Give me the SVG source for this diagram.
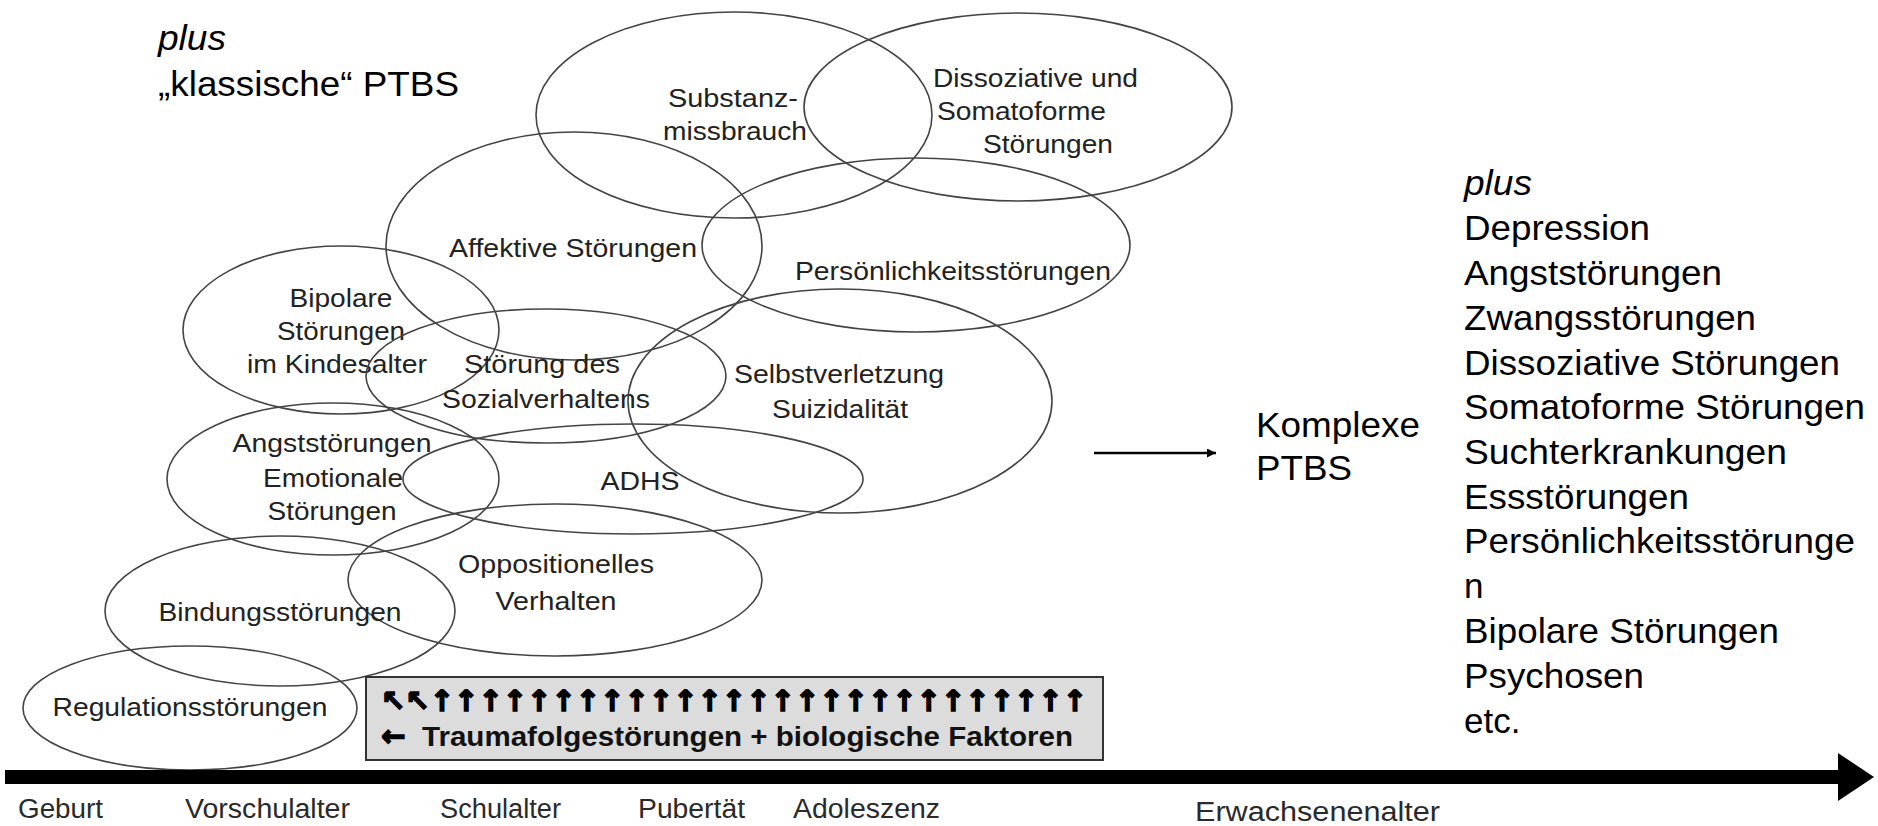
<svg xmlns="http://www.w3.org/2000/svg" width="1878" height="826" viewBox="0 0 1878 826">
<style>
.ell{fill:none;stroke:#444;stroke-width:1.6}
.lbl{font-family:"Liberation Sans",Arial,sans-serif;font-size:26px;fill:#222}
.big{font-family:"Liberation Sans",Arial,sans-serif;font-size:35px;fill:#000}
.axis{font-family:"Liberation Sans",Arial,sans-serif;font-size:27px;fill:#2a2a2a}
.mid{text-anchor:middle}
.arr{font-family:"DejaVu Sans",sans-serif;font-weight:bold;fill:#000;stroke:#000;stroke-width:1.6}
</style>
<defs>
<marker id="ah" viewBox="0 0 10 10" refX="10" refY="5" markerWidth="9" markerHeight="9" markerUnits="userSpaceOnUse" orient="auto"><path d="M0,0 L10,5 L0,10 z" fill="#000"/></marker>
</defs>
<rect width="1878" height="826" fill="#fff"/>

<g id="title-left">
<text class="big" x="158" y="50" font-style="italic" textLength="68" lengthAdjust="spacingAndGlyphs">plus</text>
<text class="big" x="158" y="96" textLength="301" lengthAdjust="spacingAndGlyphs">„klassische“ PTBS</text>
</g>

<g id="n-substanz"><ellipse class="ell" cx="734" cy="115" rx="198" ry="103"/>
<text class="lbl mid" x="733" y="107" textLength="130" lengthAdjust="spacingAndGlyphs">Substanz-</text>
<text class="lbl mid" x="735" y="140" textLength="144" lengthAdjust="spacingAndGlyphs">missbrauch</text></g>

<g id="n-dissoziativ"><ellipse class="ell" cx="1018" cy="107" rx="214" ry="94"/>
<text class="lbl" x="933" y="87" textLength="205" lengthAdjust="spacingAndGlyphs">Dissoziative und</text>
<text class="lbl" x="937" y="120" textLength="169" lengthAdjust="spacingAndGlyphs">Somatoforme</text>
<text class="lbl" x="983" y="153" textLength="130" lengthAdjust="spacingAndGlyphs">Störungen</text></g>

<g id="n-affektiv"><ellipse class="ell" cx="574" cy="246" rx="188" ry="114"/>
<text class="lbl" x="449" y="257" textLength="248" lengthAdjust="spacingAndGlyphs">Affektive Störungen</text></g>

<g id="n-persoenlichkeit"><ellipse class="ell" cx="916" cy="245" rx="214" ry="87"/>
<text class="lbl" x="795" y="280" textLength="316" lengthAdjust="spacingAndGlyphs">Persönlichkeitsstörungen</text></g>

<g id="n-bipolar"><ellipse class="ell" cx="341" cy="330" rx="158" ry="84"/>
<text class="lbl mid" x="341" y="307" textLength="103" lengthAdjust="spacingAndGlyphs">Bipolare</text>
<text class="lbl mid" x="341" y="340" textLength="128" lengthAdjust="spacingAndGlyphs">Störungen</text>
<text class="lbl mid" x="337" y="373" textLength="180" lengthAdjust="spacingAndGlyphs">im Kindesalter</text></g>

<g id="n-sozial"><ellipse class="ell" cx="546" cy="376" rx="180" ry="67"/>
<text class="lbl mid" x="542" y="373" textLength="156" lengthAdjust="spacingAndGlyphs">Störung des</text>
<text class="lbl mid" x="546" y="408" textLength="208" lengthAdjust="spacingAndGlyphs">Sozialverhaltens</text></g>

<g id="n-selbst"><ellipse class="ell" cx="840" cy="401" rx="212" ry="112"/>
<text class="lbl mid" x="839" y="383" textLength="210" lengthAdjust="spacingAndGlyphs">Selbstverletzung</text>
<text class="lbl mid" x="840" y="418" textLength="136" lengthAdjust="spacingAndGlyphs">Suizidalität</text></g>

<g id="n-angst"><ellipse class="ell" cx="333" cy="479" rx="166" ry="76"/>
<text class="lbl mid" x="332" y="452" textLength="199" lengthAdjust="spacingAndGlyphs">Angststörungen</text>
<text class="lbl mid" x="333" y="487" textLength="140" lengthAdjust="spacingAndGlyphs">Emotionale</text>
<text class="lbl mid" x="332" y="520" textLength="129" lengthAdjust="spacingAndGlyphs">Störungen</text></g>

<g id="n-adhs"><ellipse class="ell" cx="633" cy="479" rx="230" ry="55"/>
<text class="lbl mid" x="640" y="490" textLength="79" lengthAdjust="spacingAndGlyphs">ADHS</text></g>

<g id="n-opposition"><ellipse class="ell" cx="555" cy="580" rx="207" ry="76"/>
<text class="lbl mid" x="556" y="573" textLength="196" lengthAdjust="spacingAndGlyphs">Oppositionelles</text>
<text class="lbl mid" x="556" y="610" textLength="121" lengthAdjust="spacingAndGlyphs">Verhalten</text></g>

<g id="n-bindung"><ellipse class="ell" cx="280" cy="611" rx="175" ry="75"/>
<text class="lbl mid" x="280" y="621" textLength="243" lengthAdjust="spacingAndGlyphs">Bindungsstörungen</text></g>

<g id="n-regulation"><ellipse class="ell" cx="190" cy="708" rx="167" ry="62"/>
<text class="lbl mid" x="190" y="716" textLength="275" lengthAdjust="spacingAndGlyphs">Regulationsstörungen</text></g>

<g id="n-trauma">
<rect x="366" y="677" width="737" height="83" fill="#dcdcdc" stroke="#333" stroke-width="2"/>
<text class="arr" x="381" y="711" font-size="29" textLength="706" lengthAdjust="spacing">↖↖↑↑↑↑↑↑↑↑↑↑↑↑↑↑↑↑↑↑↑↑↑↑↑↑↑↑↑</text>
<text class="arr" x="381" y="746" font-size="29">←</text>
<text x="422" y="746" font-family="'Liberation Sans',Arial,sans-serif" font-weight="bold" font-size="27" fill="#111" textLength="651" lengthAdjust="spacingAndGlyphs">Traumafolgestörungen + biologische Faktoren</text>
</g>

<g id="n-komplex">
<text class="big" x="1256" y="437" textLength="164" lengthAdjust="spacingAndGlyphs">Komplexe</text>
<text class="big" x="1256" y="480" textLength="96" lengthAdjust="spacingAndGlyphs">PTBS</text>
</g>

<g id="n-liste">
<text class="big" x="1464" y="195" font-style="italic" textLength="68" lengthAdjust="spacingAndGlyphs">plus</text>
<text class="big" x="1464" y="240" textLength="186" lengthAdjust="spacingAndGlyphs">Depression</text>
<text class="big" x="1464" y="285" textLength="258" lengthAdjust="spacingAndGlyphs">Angststörungen</text>
<text class="big" x="1464" y="330" textLength="292" lengthAdjust="spacingAndGlyphs">Zwangsstörungen</text>
<text class="big" x="1464" y="375" textLength="376" lengthAdjust="spacingAndGlyphs">Dissoziative Störungen</text>
<text class="big" x="1464" y="419" textLength="401" lengthAdjust="spacingAndGlyphs">Somatoforme Störungen</text>
<text class="big" x="1464" y="464" textLength="323" lengthAdjust="spacingAndGlyphs">Suchterkrankungen</text>
<text class="big" x="1464" y="509" textLength="225" lengthAdjust="spacingAndGlyphs">Essstörungen</text>
<text class="big" x="1464" y="553" textLength="391" lengthAdjust="spacingAndGlyphs">Persönlichkeitsstörunge</text>
<text class="big" x="1464" y="598">n</text>
<text class="big" x="1464" y="643" textLength="315" lengthAdjust="spacingAndGlyphs">Bipolare Störungen</text>
<text class="big" x="1464" y="688" textLength="180" lengthAdjust="spacingAndGlyphs">Psychosen</text>
<text class="big" x="1464" y="733">etc.</text>
</g>

<g id="timeline">
<rect x="5" y="770" width="1838" height="14" fill="#000"/>
<polygon points="1838,753 1874,777 1838,801" fill="#000"/>
<text class="axis" x="18" y="818" textLength="85" lengthAdjust="spacingAndGlyphs">Geburt</text>
<text class="axis" x="185" y="818" textLength="165" lengthAdjust="spacingAndGlyphs">Vorschulalter</text>
<text class="axis" x="440" y="818" textLength="121" lengthAdjust="spacingAndGlyphs">Schulalter</text>
<text class="axis" x="638" y="818" textLength="107" lengthAdjust="spacingAndGlyphs">Pubertät</text>
<text class="axis" x="793" y="818" textLength="147" lengthAdjust="spacingAndGlyphs">Adoleszenz</text>
<text class="axis" x="1195" y="821" textLength="245" lengthAdjust="spacingAndGlyphs">Erwachsenenalter</text>
</g>

<g id="connectors">
<line x1="1094" y1="453" x2="1216" y2="453" stroke="#000" stroke-width="2.5" marker-end="url(#ah)"/>
</g>
</svg>
